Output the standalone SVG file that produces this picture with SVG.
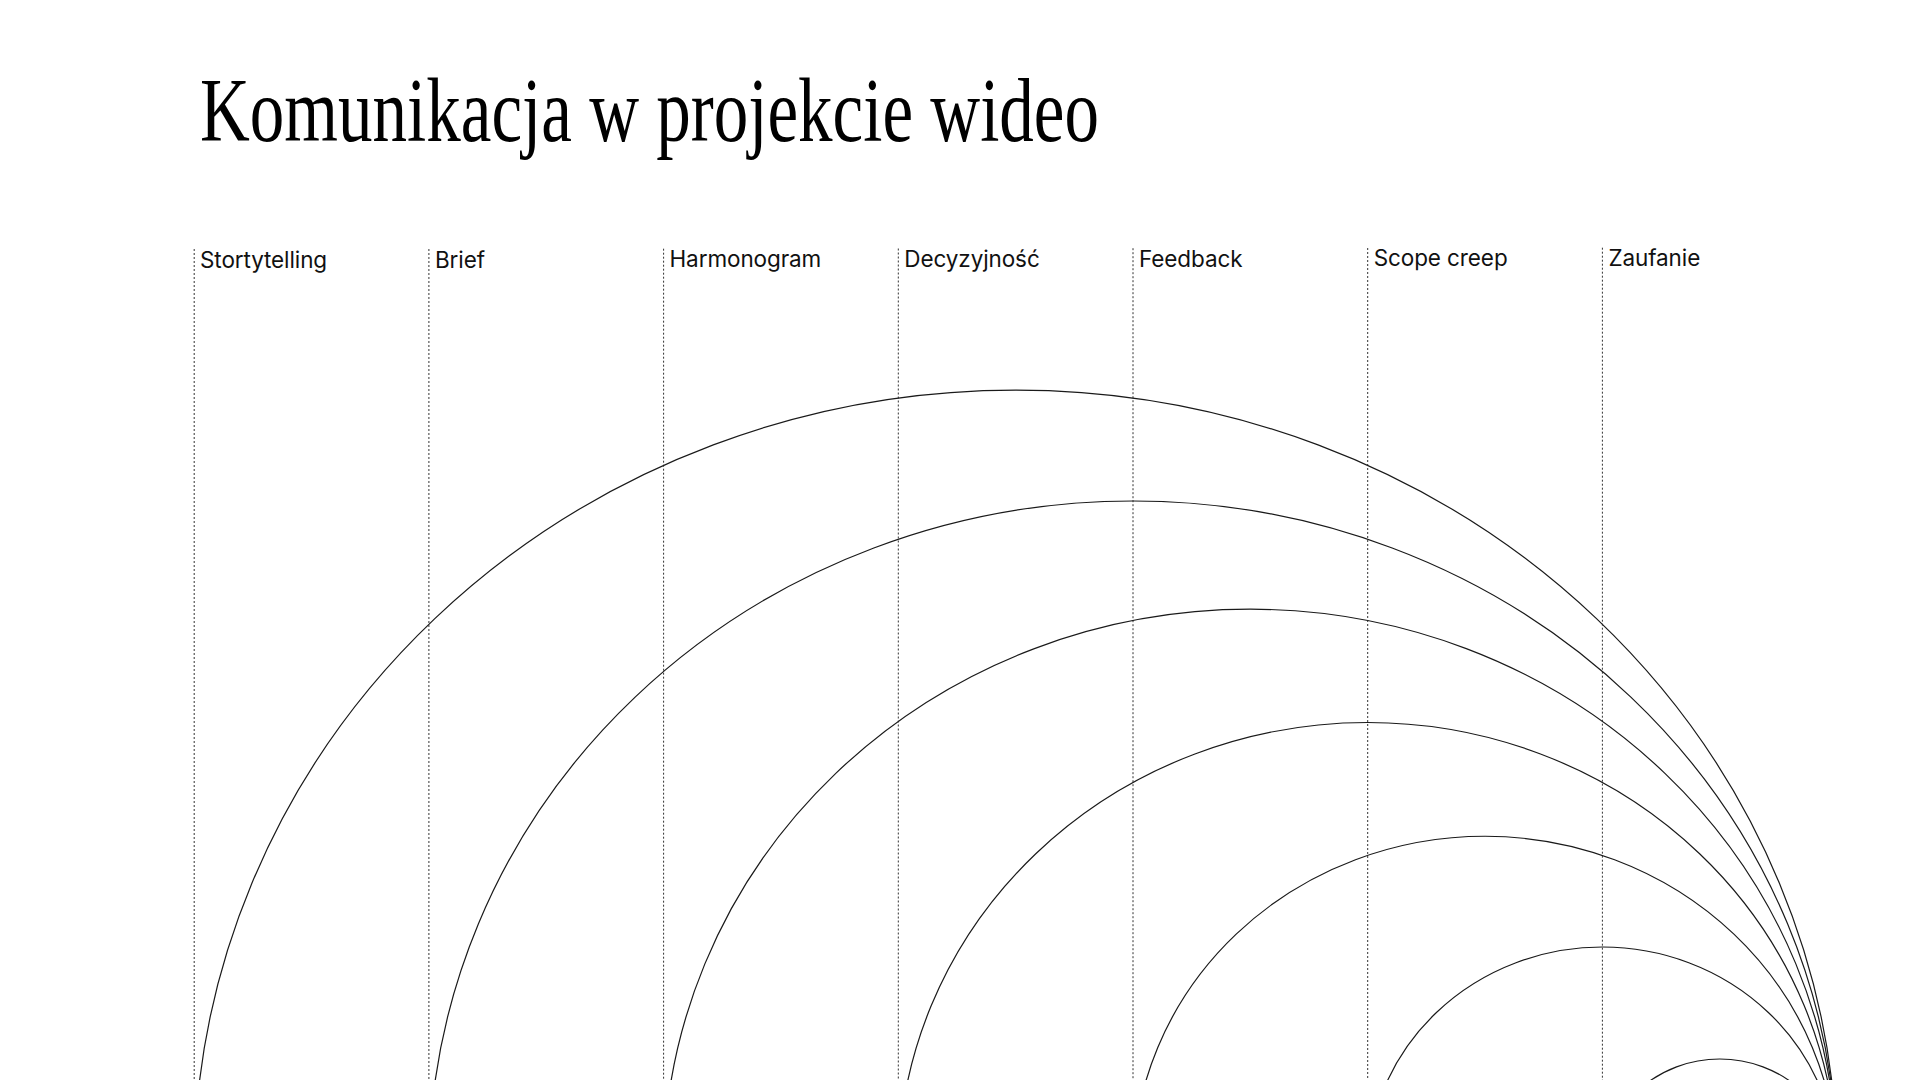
<svg xmlns="http://www.w3.org/2000/svg" width="1920" height="1080" viewBox="0 0 1920 1080">
  <style>
    .title { font-family: "Liberation Serif", "DejaVu Serif", serif; font-size: 90px; fill: #000; }
    .label { font-family: Inter, "Liberation Sans", sans-serif; font-size: 22.5px; letter-spacing: -0.1px; fill: #111; }
    .guide { stroke: #333; stroke-width: 1; stroke-dasharray: 2 2; fill: none; }
    .arc { stroke: #1a1a1a; stroke-width: 1.2; fill: none; }
  </style>
  <rect width="1920" height="1080" fill="#ffffff"/>
  <text id="title" class="title" x="200" y="141" textLength="899" lengthAdjust="spacingAndGlyphs">Komunikacja w projekcie wideo</text>

  <g id="col-stortytelling">
    <line class="guide" x1="194.2" y1="249" x2="194.2" y2="1080"/>
    <text class="label" x="200" y="268">Stortytelling</text>
  </g>
  <g id="col-brief">
    <line class="guide" x1="428.9" y1="249" x2="428.9" y2="1080"/>
    <text class="label" x="435" y="267.7">Brief</text>
  </g>
  <g id="col-harmonogram">
    <line class="guide" x1="663.6" y1="248.7" x2="663.6" y2="1080"/>
    <text class="label" x="669.5" y="267.3">Harmonogram</text>
  </g>
  <g id="col-decyzyjnosc">
    <line class="guide" x1="898.3" y1="248.5" x2="898.3" y2="1080"/>
    <text class="label" x="904.3" y="266.9">Decyzyjność</text>
  </g>
  <g id="col-feedback">
    <line class="guide" x1="1133" y1="248.2" x2="1133" y2="1080"/>
    <text class="label" x="1139" y="266.5">Feedback</text>
  </g>
  <g id="col-scope-creep">
    <line class="guide" x1="1367.7" y1="248" x2="1367.7" y2="1080"/>
    <text class="label" x="1373.7" y="266.1">Scope creep</text>
  </g>
  <g id="col-zaufanie">
    <line class="guide" x1="1602.4" y1="247.7" x2="1602.4" y2="1080"/>
    <text class="label" x="1608.4" y="265.7">Zaufanie</text>
  </g>

  <g id="connectors">
    <path class="arc" d="M194.2 1170.5 A821.45 780.4 0 0 1 1837.1 1170.5"/>
    <path class="arc" d="M428.9 1170.5 A704.1 669.5 0 0 1 1837.1 1170.5"/>
    <path class="arc" d="M663.6 1170.5 A586.75 561.5 0 0 1 1837.1 1170.5"/>
    <path class="arc" d="M898.3 1170.5 A469.4 448 0 0 1 1837.1 1170.5"/>
    <path class="arc" d="M1133 1170.5 A352.05 334.4 0 0 1 1837.1 1170.5"/>
    <path class="arc" d="M1367.7 1170.5 A234.7 223.5 0 0 1 1837.1 1170.5"/>
    <path class="arc" d="M1602.4 1170.5 A117.35 111.5 0 0 1 1837.1 1170.5"/>
  </g>
</svg>
